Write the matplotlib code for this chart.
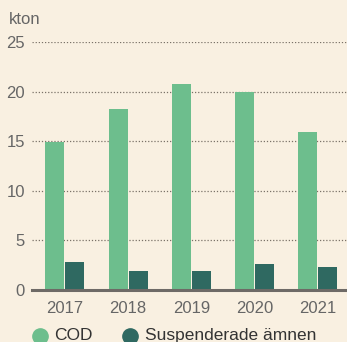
import matplotlib
matplotlib.use("Agg")
import matplotlib.pyplot as plt
from matplotlib.lines import Line2D
import numpy as np

years = ["2017", "2018", "2019", "2020", "2021"]
cod = [14.9, 18.2, 20.8, 20.0, 15.9]
suspended = [2.8, 1.9, 1.9, 2.6, 2.3]
series_names = ["COD", "Suspenderade ämnen"]
y_ticks = [0, 5, 10, 15, 20, 25]
unit_label = "kton"

bg = "#F9F0E1"
green = "#6DBE8D"
dark = "#2F6961"
text_col = "#666666"

plt.rcParams["font.family"] = ["Liberation Sans", "DejaVu Sans"]

W, H = 347, 342
fig = plt.figure(figsize=(W / 100, H / 100), dpi=100, facecolor=bg)
ax = fig.add_axes([32 / W, 1 - 290 / H, 1 - 32 / W, 248 / H], facecolor=bg)

x = np.arange(len(years))
w = 0.30
off = 0.158
ax.bar(x - off, cod, width=w, color=green, zorder=3)
ax.bar(x + off, suspended, width=w, color=dark, zorder=3)

ax.set_xlim(-0.52, 4.46)
ax.set_ylim(0, 25)
ax.set_yticks(y_ticks)
ax.set_xticks(x)
ax.set_xticklabels(years)

for v in y_ticks[1:]:
    ax.axhline(v, color="#7a7268", lw=0.9, ls=(0, (1, 1.5)), zorder=1)

for s in ["top", "right", "left"]:
    ax.spines[s].set_visible(False)
ax.spines["bottom"].set_color("#6e6a66")
ax.spines["bottom"].set_linewidth(2.2)
ax.spines["bottom"].set_zorder(4)

ax.tick_params(axis="both", length=0, labelsize=12, labelcolor=text_col)
ax.tick_params(axis="y", pad=5)
ax.tick_params(axis="x", pad=8)

fig.text(9 / W, 1 - 20 / H, unit_label, fontsize=12, color=text_col,
         ha="left", va="center")

# legend: colored dots followed by series names along the bottom edge
dot_y = 1 - 336 / H
text_y = 1 - 340 / H
for (cx, tx), name, col in zip([(39.5, 54), (130, 145)], series_names, [green, dark]):
    fig.add_artist(Line2D([cx / W], [dot_y], marker="o", ls="none",
                          markersize=11, color=col, transform=fig.transFigure))
    fig.text(tx / W, text_y, name, fontsize=12.5, color="#333333",
             ha="left", va="baseline")

fig.savefig("out.png", dpi=100, facecolor=bg)
